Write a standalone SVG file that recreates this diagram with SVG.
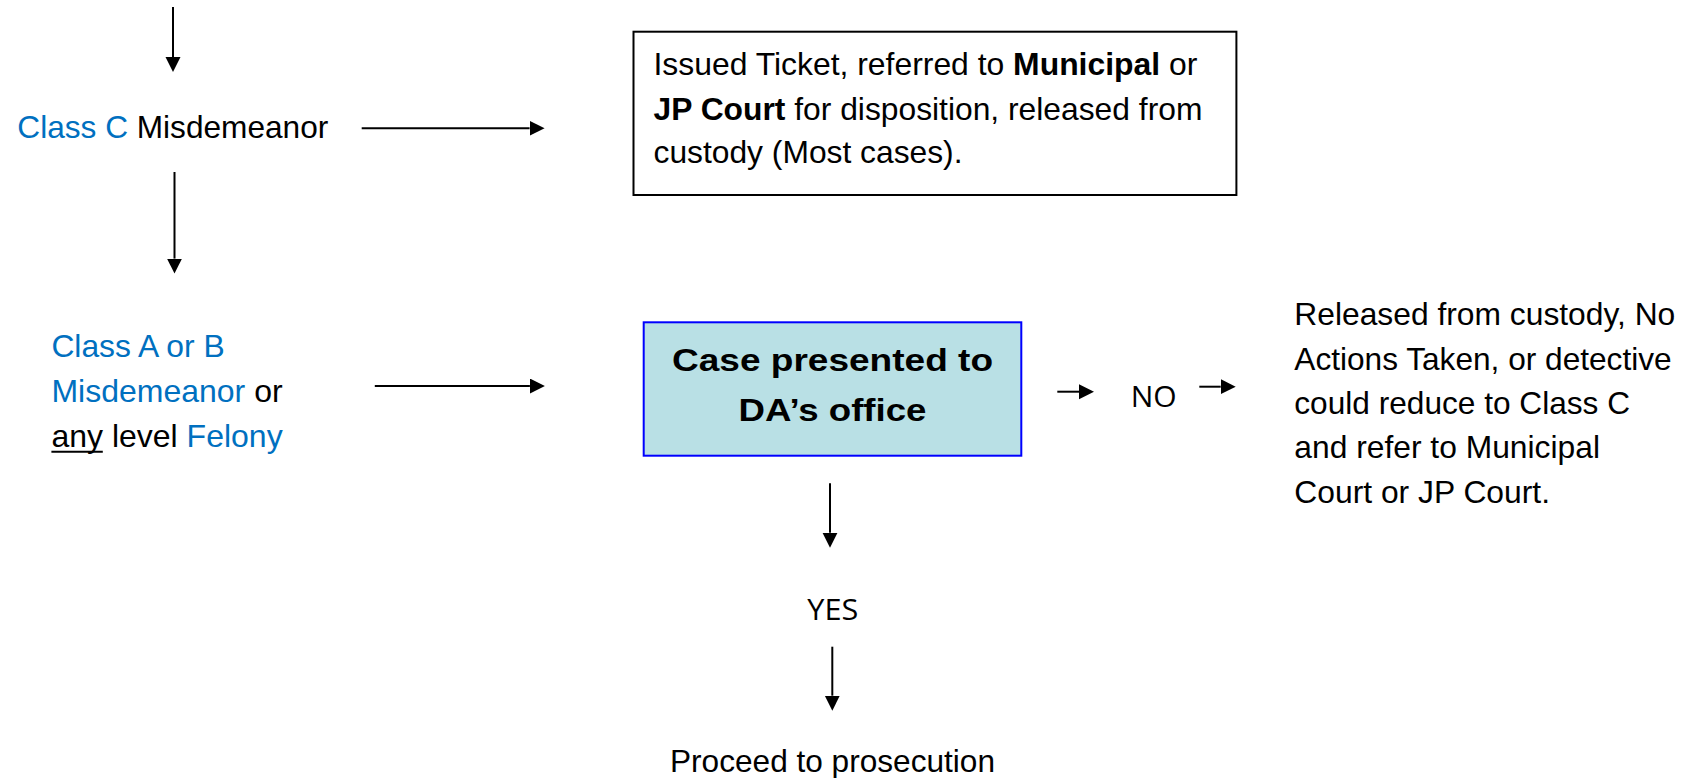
<svg xmlns="http://www.w3.org/2000/svg" width="1696" height="778" viewBox="0 0 1696 778">
<style>
text{font-family:"Liberation Sans",Arial,sans-serif;font-size:32px;fill:#000}
.b{fill:#0070C0}
.bold{font-weight:bold}
.ui{font-family:"Open Sans","Noto Sans",sans-serif;font-size:30px}
.conn{stroke:#000;stroke-width:2;fill:none;marker-end:url(#ah)}
</style>
<defs>
<marker id="ah" markerUnits="userSpaceOnUse" markerWidth="16" markerHeight="16" refX="0" refY="7.5" orient="auto">
<path d="M0,0 L15,7.5 L0,15 Z" fill="#000"/>
</marker>
</defs>
<rect width="1696" height="778" fill="#fff"/>
<g id="connectors">
<line class="conn" x1="173" y1="7" x2="173" y2="57"/>
<line class="conn" x1="361.7" y1="128.3" x2="529.6" y2="128.3"/>
<line class="conn" x1="174.5" y1="172" x2="174.5" y2="258.6"/>
<line class="conn" x1="374.8" y1="386" x2="529.9" y2="386"/>
<line class="conn" x1="1057.3" y1="391.7" x2="1079" y2="391.7"/>
<line class="conn" x1="1199.3" y1="386.7" x2="1220.7" y2="386.7"/>
<line class="conn" x1="830" y1="483.3" x2="830" y2="532.7"/>
<line class="conn" x1="832.3" y1="646.7" x2="832.3" y2="695.7"/>
</g>
<g id="classC">
<text x="17.3" y="137.7" textLength="311" lengthAdjust="spacingAndGlyphs"><tspan class="b">Class C</tspan> Misdemeanor</text>
</g>
<g id="ticket">
<rect x="633.5" y="31.7" width="602.9" height="163.3" fill="#fff" stroke="#000" stroke-width="2"/>
<text x="653.5" y="75" textLength="543.8" lengthAdjust="spacingAndGlyphs">Issued Ticket, referred to <tspan class="bold">Municipal</tspan> or</text>
<text x="653.5" y="120" textLength="548.9" lengthAdjust="spacingAndGlyphs"><tspan class="bold">JP Court</tspan> for disposition, released from</text>
<text x="653.5" y="163" textLength="309" lengthAdjust="spacingAndGlyphs">custody (Most cases).</text>
</g>
<g id="classAB">
<text x="51.4" y="357" textLength="173.2" lengthAdjust="spacingAndGlyphs" class="b">Class A or B</text>
<text x="51.4" y="401.7"><tspan class="b">Misdemeanor</tspan> or</text>
<text x="51.4" y="446.7">any level <tspan class="b">Felony</tspan></text>
<line x1="51.4" y1="451.7" x2="102.8" y2="451.7" stroke="#000" stroke-width="2"/>
</g>
<g id="da">
<rect x="643.7" y="322.3" width="377.6" height="133.4" fill="#B9E0E5" stroke="#0000FF" stroke-width="2"/>
<text x="832.5" y="371" text-anchor="middle" class="bold" font-size="36" textLength="321" lengthAdjust="spacingAndGlyphs">Case presented to</text>
<text x="832.5" y="420.7" text-anchor="middle" class="bold" font-size="36" textLength="188" lengthAdjust="spacingAndGlyphs">DA’s office</text>
</g>
<g id="no">
<text x="1130.7" y="406.7" class="ui" textLength="46" lengthAdjust="spacingAndGlyphs">NO</text>
</g>
<g id="released">
<text x="1294.3" y="325" textLength="381" lengthAdjust="spacingAndGlyphs">Released from custody, No</text>
<text x="1294.3" y="370" textLength="377.3" lengthAdjust="spacingAndGlyphs">Actions Taken, or detective</text>
<text x="1294.3" y="414" textLength="335.7" lengthAdjust="spacingAndGlyphs">could reduce to Class C</text>
<text x="1294.3" y="458.3" textLength="305.7" lengthAdjust="spacingAndGlyphs">and refer to Municipal</text>
<text x="1294.3" y="502.7" textLength="255.7" lengthAdjust="spacingAndGlyphs">Court or JP Court.</text>
</g>
<g id="yes">
<text x="807.3" y="620" class="ui" textLength="51" lengthAdjust="spacingAndGlyphs">YES</text>
</g>
<g id="proceed">
<text x="670" y="771.5" textLength="325" lengthAdjust="spacingAndGlyphs">Proceed to prosecution</text>
</g>
</svg>
